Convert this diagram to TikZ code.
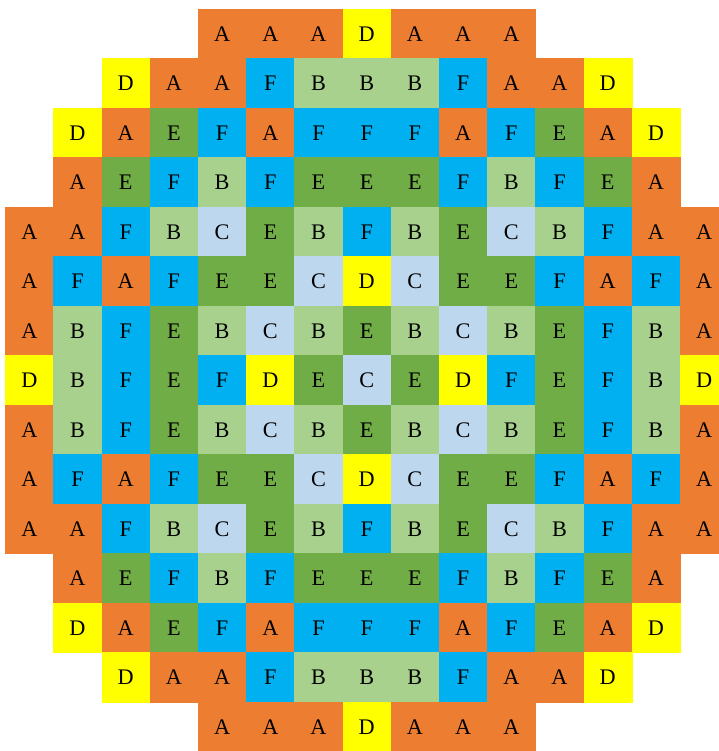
\documentclass[tikz,border=0pt]{standalone}
\usepackage{fontspec}
\setmainfont{Liberation Serif}
\usepackage{tikz}
\definecolor{colA}{HTML}{ED7D31}
\definecolor{colB}{HTML}{A9D18E}
\definecolor{colC}{HTML}{BDD7EE}
\definecolor{colD}{HTML}{FFFF00}
\definecolor{colE}{HTML}{70AD47}
\definecolor{colF}{HTML}{00B0F0}

\begin{document}
\begin{tikzpicture}[x=0.03cm, y=-0.03cm,
    cell/.style={fill=col#1, draw=col#1, line width=0.1pt, minimum width=1.446cm,
      minimum height=1.485cm, inner sep=0pt, font=\fontsize{19}{22}\selectfont}]
    \useasboundingbox (0,0) rectangle (718,751);
    % row / first column / letters
    \foreach \r/\s/\cells in {
        0/4/{A,A,A,D,A,A,A},
        1/2/{D,A,A,F,B,B,B,F,A,A,D},
        2/1/{D,A,E,F,A,F,F,F,A,F,E,A,D},
        3/1/{A,E,F,B,F,E,E,E,F,B,F,E,A},
        4/0/{A,A,F,B,C,E,B,F,B,E,C,B,F,A,A},
        5/0/{A,F,A,F,E,E,C,D,C,E,E,F,A,F,A},
        6/0/{A,B,F,E,B,C,B,E,B,C,B,E,F,B,A},
        7/0/{D,B,F,E,F,D,E,C,E,D,F,E,F,B,D},
        8/0/{A,B,F,E,B,C,B,E,B,C,B,E,F,B,A},
        9/0/{A,F,A,F,E,E,C,D,C,E,E,F,A,F,A},
        10/0/{A,A,F,B,C,E,B,F,B,E,C,B,F,A,A},
        11/1/{A,E,F,B,F,E,E,E,F,B,F,E,A},
        12/1/{D,A,E,F,A,F,F,F,A,F,E,A,D},
        13/2/{D,A,A,F,B,B,B,F,A,A,D},
        14/4/{A,A,A,D,A,A,A}} {
      \foreach \l [count=\i from \s] in \cells {
        \node[cell=\l] (c-\r-\i) at ({5.2+48.2*(\i+0.5)}, {9+49.5*(\r+0.5)}) {\l};
      }
    }
\end{tikzpicture}
\end{document}
